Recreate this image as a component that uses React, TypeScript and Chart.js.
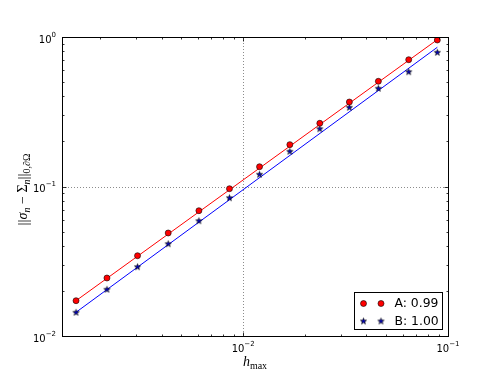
import React, { useEffect, useRef } from "react";
import { Chart, registerables } from "chart.js";

Chart.register(...registerables);

// ---- data ----
const hMax = [0.001528, 0.002163, 0.00305, 0.004306, 0.00608, 0.008574, 0.01202, 0.0169, 0.02367, 0.033, 0.04571, 0.0643, 0.08868];
const errorA = [0.01722, 0.02443, 0.03444, 0.04887, 0.06887, 0.09666, 0.1356, 0.1905, 0.2648, 0.3674, 0.5054, 0.705, 0.9548];
const errorB = [0.01441, 0.02053, 0.02907, 0.04143, 0.05904, 0.08414, 0.1207, 0.172, 0.2435, 0.3387, 0.4538, 0.5858, 0.7902];
const seriesLabels = ["A: 0.99", "B: 1.00"];
// fitted power laws  err = 10^c * h^p
const fitRates = [0.99, 1.005];
const fitLog10Coeff = [1.024, 0.9887];

const xRange = [0.001305, 0.1];
const yRange = [0.01, 1];
const xMajorTicks = [0.01, 0.1];
const xTickExps = ["\u22122", "\u22121"];
const yMajorTicks = [0.01, 0.1, 1];
const yTickExps = ["\u22122", "\u22121", "0"];

const RED = "#ff0000";
const BLUE = "#0000ff";
const STAR_FILL = "#0000c8";
const SANS = "'DejaVu Sans', sans-serif";
const SERIF = "'Liberation Serif', 'DejaVu Serif', serif";

function minorTicks(min: number, max: number): number[] {
  const out: number[] = [];
  for (let e = Math.floor(Math.log10(min)); e <= Math.ceil(Math.log10(max)); e++) {
    for (let k = 2; k <= 9; k++) {
      const v = k * Math.pow(10, e);
      if (v > min && v < max) out.push(v);
    }
  }
  return out;
}

function makeStar(): HTMLCanvasElement {
  const size = 9;
  const c = document.createElement("canvas");
  c.width = size;
  c.height = size;
  const g = c.getContext("2d")!;
  g.translate(size / 2, size / 2 + 0.3);
  const R = 3.2;
  const r = 1.3;
  g.beginPath();
  for (let i = 0; i < 10; i++) {
    const ang = -Math.PI / 2 + (i * Math.PI) / 5;
    const rad = i % 2 === 0 ? R : r;
    const px = Math.cos(ang) * rad;
    const py = Math.sin(ang) * rad;
    if (i === 0) g.moveTo(px, py);
    else g.lineTo(px, py);
  }
  g.closePath();
  g.fillStyle = STAR_FILL;
  g.fill();
  g.lineWidth = 0.7;
  g.strokeStyle = "#000";
  g.stroke();
  return c;
}

type Run = { text: string; font: string; dy: number };

function runsWidth(ctx: CanvasRenderingContext2D, runs: Run[]) {
  let w = 0;
  for (const r of runs) {
    ctx.font = r.font;
    w += ctx.measureText(r.text).width;
  }
  return w;
}

function drawRuns(ctx: CanvasRenderingContext2D, runs: Run[], x: number, y: number, align: "left" | "center" | "right") {
  const w = runsWidth(ctx, runs);
  let cx = align === "left" ? x : align === "center" ? x - w / 2 : x - w;
  ctx.textAlign = "left";
  ctx.textBaseline = "alphabetic";
  for (const r of runs) {
    ctx.font = r.font;
    ctx.fillText(r.text, cx, y + r.dy);
    cx += ctx.measureText(r.text).width;
  }
}

function powerRuns(exp: string): Run[] {
  return [
    { text: "10", font: `10px ${SANS}`, dy: 0 },
    { text: exp, font: `7px ${SANS}`, dy: -6 },
  ];
}

export default function App() {
  const ref = useRef<HTMLCanvasElement | null>(null);

  useEffect(() => {
    if (!ref.current) return;
    const star = makeStar();

    const fitLine = (i: number) =>
      [hMax[0], hMax[hMax.length - 1]].map((h) => ({
        x: h,
        y: Math.pow(10, fitLog10Coeff[i]) * Math.pow(h, fitRates[i]),
      }));

    const axesPlugin = {
      id: "mplAxes",
      beforeDatasetsDraw(chart: any) {
        const { ctx, chartArea: a, scales } = chart;
        const x = scales.x;
        const y = scales.y;
        ctx.save();
        ctx.strokeStyle = "rgba(0,0,0,0.45)";
        ctx.lineWidth = 1;
        ctx.setLineDash([1, 2]);
        for (const v of xMajorTicks) {
          const px = Math.round(x.getPixelForValue(v)) + 0.5;
          if (px > a.left + 2 && px < a.right - 2) {
            ctx.beginPath();
            ctx.moveTo(px, a.top);
            ctx.lineTo(px, a.bottom);
            ctx.stroke();
          }
        }
        for (const v of yMajorTicks) {
          const py = Math.round(y.getPixelForValue(v)) + 0.5;
          if (py > a.top + 2 && py < a.bottom - 2) {
            ctx.beginPath();
            ctx.moveTo(a.left, py);
            ctx.lineTo(a.right, py);
            ctx.stroke();
          }
        }
        ctx.restore();
      },
      afterDatasetsDraw(chart: any) {
        const { ctx, chartArea: a, scales } = chart;
        const x = scales.x;
        const y = scales.y;
        ctx.save();
        const L = Math.round(a.left) + 0.5;
        const R = Math.round(a.right) + 0.5;
        const T = Math.round(a.top) + 0.5;
        const B = Math.round(a.bottom) + 0.5;
        ctx.strokeStyle = "#000";
        ctx.lineWidth = 1;
        ctx.strokeRect(L, T, R - L, B - T);

        // ticks (inward, all four sides)
        ctx.lineWidth = 0.8;
        const xt = (v: number, len: number) => {
          const px = Math.round(x.getPixelForValue(v)) + 0.5;
          ctx.beginPath();
          ctx.moveTo(px, B);
          ctx.lineTo(px, B - len);
          ctx.moveTo(px, T);
          ctx.lineTo(px, T + len);
          ctx.stroke();
        };
        const yt = (v: number, len: number) => {
          const py = Math.round(y.getPixelForValue(v)) + 0.5;
          ctx.beginPath();
          ctx.moveTo(L, py);
          ctx.lineTo(L + len, py);
          ctx.moveTo(R, py);
          ctx.lineTo(R - len, py);
          ctx.stroke();
        };
        minorTicks(xRange[0], xRange[1]).forEach((v) => xt(v, 2));
        xMajorTicks.forEach((v) => xt(v, 4));
        minorTicks(yRange[0], yRange[1]).forEach((v) => yt(v, 2));
        yMajorTicks.forEach((v) => yt(v, 4));

        // tick labels
        ctx.fillStyle = "#000";
        xMajorTicks.forEach((v, i) => {
          const px = x.getPixelForValue(v);
          drawRuns(ctx, powerRuns(xTickExps[i]), px, a.bottom + 16, "center");
        });
        yMajorTicks.forEach((v, i) => {
          const py = y.getPixelForValue(v);
          drawRuns(ctx, powerRuns(yTickExps[i]), a.left - 6, py + 5.5, "right");
        });

        // x axis label: h_max
        const xl: Run[] = [
          { text: "h", font: `italic 14px ${SERIF}`, dy: 0 },
          { text: "max", font: `10px ${SERIF}`, dy: 3.5 },
        ];
        drawRuns(ctx, xl, (a.left + a.right) / 2, a.bottom + 29.5, "center");

        // y axis label: ||σ_n − Σ_n||_{0,∂Ω}
        const yl: Run[] = [
          { text: "||", font: `15px ${SERIF}`, dy: 0.5 },
          { text: "\u03c3", font: `italic 14px ${SERIF}`, dy: 0 },
          { text: "n", font: `italic 10px ${SERIF}`, dy: 3 },
          { text: " \u2212 ", font: `14px ${SERIF}`, dy: 0 },
          { text: "\u03a3", font: `14px ${SERIF}`, dy: 0 },
          { text: "n", font: `italic 10px ${SERIF}`, dy: 3 },
          { text: "||", font: `15px ${SERIF}`, dy: 0.5 },
          { text: "0,", font: `10px ${SERIF}`, dy: 3 },
          { text: "\u2202", font: `italic 10px ${SERIF}`, dy: 3 },
          { text: "\u03a9", font: `10px ${SERIF}`, dy: 3 },
        ];
        ctx.save();
        ctx.translate(27, (a.top + a.bottom) / 2 + 3);
        ctx.rotate(-Math.PI / 2);
        drawRuns(ctx, yl, 0, 0, "center");
        ctx.restore();

        // legend
        const lx = 354.5;
        const ly = 292.5;
        const lw = 88;
        const lh = 37;
        ctx.fillStyle = "#fff";
        ctx.fillRect(lx, ly, lw, lh);
        ctx.strokeStyle = "#000";
        ctx.lineWidth = 1;
        ctx.strokeRect(lx, ly, lw, lh);
        const rows = [ly + 11, ly + 28.5];
        const mx = [lx + 9, lx + 26.5];
        for (const m of mx) {
          ctx.beginPath();
          ctx.arc(m, rows[0], 3, 0, Math.PI * 2);
          ctx.fillStyle = RED;
          ctx.fill();
          ctx.lineWidth = 0.6;
          ctx.strokeStyle = "#000";
          ctx.stroke();
          ctx.drawImage(star, m - star.width / 2, rows[1] - star.height / 2);
        }
        ctx.fillStyle = "#000";
        ctx.font = `12.4px ${SANS}`;
        ctx.textAlign = "left";
        ctx.textBaseline = "middle";
        ctx.fillText(seriesLabels[0], lx + 40, rows[0] + 0.5);
        ctx.fillText(seriesLabels[1], lx + 40, rows[1] + 0.5);
        ctx.restore();
      },
    };

    const chart = new Chart(ref.current, {
      type: "scatter",
      data: {
        datasets: [
          {
            label: seriesLabels[0],
            data: hMax.map((h, i) => ({ x: h, y: errorA[i] })),
            pointStyle: "circle",
            pointRadius: 3,
            backgroundColor: RED,
            borderColor: "#000",
            borderWidth: 0.6,
            order: 0,
          },
          {
            label: seriesLabels[1],
            data: hMax.map((h, i) => ({ x: h, y: errorB[i] })),
            pointStyle: star,
            pointRadius: 3,
            backgroundColor: BLUE,
            borderColor: "#000",
            order: 0,
          },
          {
            label: "fit A",
            data: fitLine(0),
            showLine: true,
            pointRadius: 0,
            borderColor: RED,
            borderWidth: 1,
            order: 1,
          },
          {
            label: "fit B",
            data: fitLine(1),
            showLine: true,
            pointRadius: 0,
            borderColor: BLUE,
            borderWidth: 1,
            order: 1,
          },
        ],
      } as any,
      options: {
        animation: false,
        responsive: true,
        maintainAspectRatio: false,
        layout: { padding: { left: 62, top: 37, right: 50, bottom: 38 } },
        plugins: { legend: { display: false }, tooltip: { enabled: false } },
        scales: {
          x: { type: "logarithmic", min: xRange[0], max: xRange[1], display: false },
          y: { type: "logarithmic", min: yRange[0], max: yRange[1], display: false },
        },
      } as any,
      plugins: [axesPlugin],
    });
    return () => chart.destroy();
  }, []);

  return (
    <div style={{ position: "fixed", left: 0, top: 0, width: 498, height: 374, background: "#fff" }}>
      <canvas ref={ref} />
    </div>
  );
}
